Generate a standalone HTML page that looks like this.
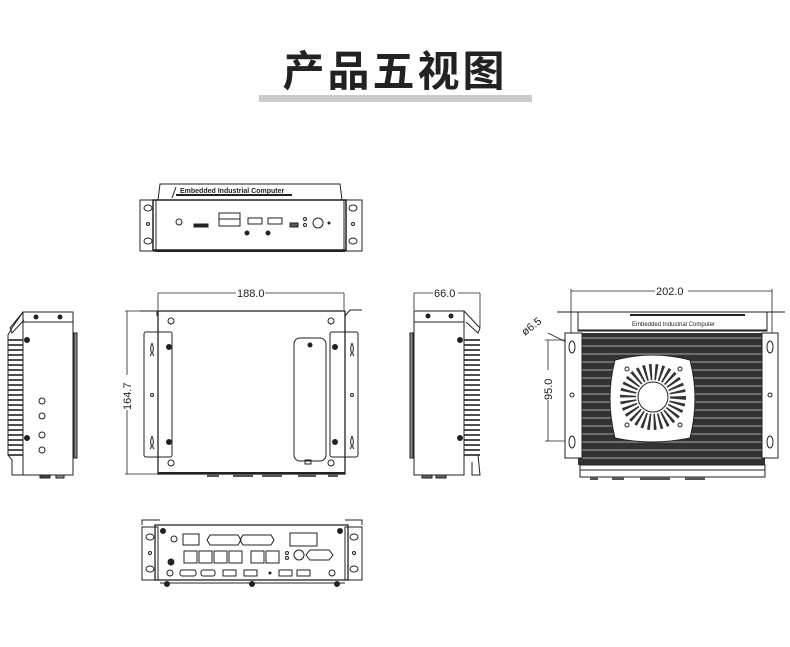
<!DOCTYPE html>
<html><head><meta charset="utf-8"><style>
html,body{margin:0;padding:0;background:#fff;width:790px;height:647px;overflow:hidden}
.t{position:absolute;left:0;top:38px;width:790px;text-align:center;font:bold 42px "Liberation Sans","Noto Sans CJK SC",sans-serif;color:#222;letter-spacing:3px}
.bar{position:absolute;left:259px;top:95px;width:273px;height:7px;background:#cbcbcb}
svg{position:absolute;left:0;top:0}
text{font-family:"Liberation Sans",sans-serif}
</style></head><body>
<div class="t">产品五视图</div>
<div class="bar"></div>
<svg width="790" height="647" viewBox="0 0 790 647" fill="none" stroke="#222" stroke-width="1">
<!-- FRONT VIEW -->
<path d="M158 200 L160 184 L340 184 L342 200" />
<line x1="176" y1="187" x2="172" y2="198"/>
<text x="180" y="193" font-size="7" fill="#222" stroke="none" font-weight="bold">Embedded Industrial Computer</text>
<line x1="176" y1="195" x2="292" y2="195" stroke-width="2"/>
<rect x="153" y="200" width="193" height="50" stroke-width="1.5"/>
<rect x="140" y="200" width="16" height="51"/><rect x="344" y="200" width="18" height="51"/>
<ellipse cx="148" cy="208" rx="4" ry="3"/><ellipse cx="148" cy="241" rx="4" ry="3"/><circle cx="148" cy="224" r="1.5"/>
<ellipse cx="353" cy="208" rx="4" ry="3"/><ellipse cx="353" cy="241" rx="4" ry="3"/><circle cx="353" cy="224" r="1.5"/>
<line x1="155" y1="251" x2="345" y2="251" stroke-width="2"/>
<circle cx="179" cy="222" r="3"/>
<rect x="194" y="224" width="14" height="3" fill="#222"/>
<rect x="219" y="213" width="21" height="13"/><line x1="219" y1="219" x2="240" y2="219"/>
<rect x="248" y="218" width="14" height="6"/><rect x="268" y="218" width="14" height="6"/>
<circle cx="247" cy="233" r="2" fill="#222"/><circle cx="268" cy="233" r="2" fill="#222"/>
<rect x="290" y="223" width="8" height="4" fill="#555"/>
<circle cx="305" cy="219" r="1.5"/><circle cx="305" cy="225" r="1.5"/>
<circle cx="318" cy="223" r="5"/><circle cx="329" cy="223" r="1" fill="#222"/>

<!-- LEFT SIDE VIEW -->
<path d="M23 312 L73 312 L73 475 L12 475 L12 460 L8 455 L8 335 L12 328 Z" fill="#fff"/>
<rect x="23" y="312" width="50" height="10"/>
<circle cx="36" cy="317" r="2" fill="#222"/><circle cx="60" cy="317" r="2" fill="#222"/>
<path d="M23 312 L10 328 L12 333 L24 320" />
<g stroke-width="1.6">
<line x1="8" y1="340" x2="23" y2="340"/><line x1="8" y1="345" x2="23" y2="345"/><line x1="8" y1="350" x2="23" y2="350"/><line x1="8" y1="355" x2="23" y2="355"/><line x1="8" y1="360" x2="23" y2="360"/><line x1="8" y1="365" x2="23" y2="365"/><line x1="8" y1="370" x2="23" y2="370"/><line x1="8" y1="375" x2="23" y2="375"/><line x1="8" y1="380" x2="23" y2="380"/><line x1="8" y1="385" x2="23" y2="385"/><line x1="8" y1="390" x2="23" y2="390"/><line x1="8" y1="395" x2="23" y2="395"/><line x1="8" y1="400" x2="23" y2="400"/><line x1="8" y1="405" x2="23" y2="405"/><line x1="8" y1="410" x2="23" y2="410"/><line x1="8" y1="415" x2="23" y2="415"/><line x1="8" y1="420" x2="23" y2="420"/><line x1="8" y1="425" x2="23" y2="425"/><line x1="8" y1="430" x2="23" y2="430"/><line x1="8" y1="435" x2="23" y2="435"/><line x1="8" y1="440" x2="23" y2="440"/><line x1="8" y1="445" x2="23" y2="445"/><line x1="8" y1="450" x2="23" y2="450"/><line x1="8" y1="455" x2="23" y2="455"/>
</g>
<line x1="23" y1="320" x2="23" y2="475"/>
<circle cx="27" cy="340" r="2.5" fill="#222"/><circle cx="27" cy="438" r="2.5" fill="#222"/>
<rect x="74" y="333" width="3" height="125" fill="#888"/>
<circle cx="42" cy="401" r="3"/><circle cx="42" cy="416" r="3"/><circle cx="42" cy="435" r="3"/><circle cx="42" cy="450" r="3"/>
<rect x="40" y="475" width="10" height="3" fill="#444"/><rect x="56" y="475" width="8" height="3" fill="#888"/>

<!-- TOP VIEW -->
<g stroke-width="0.8">
<line x1="158" y1="310" x2="158" y2="293"/><line x1="344" y1="310" x2="344" y2="293"/>
<line x1="158" y1="293" x2="236" y2="293"/><line x1="265" y1="293" x2="344" y2="293"/>
<line x1="125" y1="311" x2="158" y2="311"/><line x1="125" y1="474" x2="158" y2="474"/>
<line x1="127" y1="311" x2="127" y2="375"/><line x1="127" y1="410" x2="127" y2="474"/>
</g>
<text x="237" y="297" font-size="11" fill="#222" stroke="none">188.0</text>
<text x="131" y="410" font-size="11" fill="#222" stroke="none" transform="rotate(-90 131 410)">164.7</text>
<path d="M140 311 L157 311 L157 316" /><path d="M345 316 L350 310 L362 310"/>
<rect x="158" y="311" width="187" height="163" stroke-width="1.3"/>
<line x1="158" y1="473" x2="345" y2="473" stroke-width="2"/>
<rect x="144" y="332" width="28" height="125" rx="2"/><rect x="330" y="332" width="28" height="125" rx="2"/>
<path d="M152 343 q-2 5 -1 8 q1 3 -1 5 M152 343 q2 5 1 8 q-1 3 1 5"/>
<path d="M152 436 q-2 5 -1 8 q1 3 -1 5 M152 436 q2 5 1 8 q-1 3 1 5"/>
<path d="M352 343 q-2 5 -1 8 q1 3 -1 5 M352 343 q2 5 1 8 q-1 3 1 5"/>
<path d="M352 436 q-2 5 -1 8 q1 3 -1 5 M352 436 q2 5 1 8 q-1 3 1 5"/>
<circle cx="152" cy="395" r="1.5"/><circle cx="352" cy="395" r="1.5"/>
<circle cx="171" cy="321" r="3"/><circle cx="331" cy="321" r="3"/><circle cx="171" cy="463" r="3"/><circle cx="331" cy="463" r="3"/>
<circle cx="169" cy="347" r="2.5" fill="#222"/><circle cx="169" cy="442" r="2.5" fill="#222"/>
<circle cx="335" cy="347" r="2.5" fill="#222"/><circle cx="335" cy="442" r="2.5" fill="#222"/>
<rect x="294" y="338" width="32" height="123" rx="6"/><circle cx="310" cy="345" r="2" fill="#222"/>
<rect x="305" y="460" width="6" height="4"/>
<g fill="#555" stroke="none"><rect x="207" y="474" width="12" height="3"/><rect x="233" y="474" width="20" height="3"/><rect x="262" y="474" width="20" height="3"/><rect x="298" y="474" width="18" height="3"/><rect x="328" y="474" width="10" height="3"/></g>

<!-- RIGHT SIDE VIEW -->
<g stroke-width="0.8"><line x1="414" y1="293" x2="414" y2="310"/><line x1="480" y1="293" x2="480" y2="328"/>
<line x1="414" y1="293" x2="433" y2="293"/><line x1="458" y1="293" x2="480" y2="293"/></g>
<text x="434" y="297" font-size="11" fill="#222" stroke="none">66.0</text>
<rect x="414" y="311" width="50" height="164" fill="#fff"/>
<rect x="414" y="311" width="50" height="11"/>
<circle cx="428" cy="316" r="2" fill="#222"/><circle cx="451" cy="316" r="2" fill="#222"/>
<path d="M464 311 L480 328 L478 333 L466 322"/>
<g stroke-width="1.6">
<line x1="464" y1="340" x2="480" y2="340"/><line x1="464" y1="345" x2="480" y2="345"/><line x1="464" y1="350" x2="480" y2="350"/><line x1="464" y1="355" x2="480" y2="355"/><line x1="464" y1="360" x2="480" y2="360"/><line x1="464" y1="365" x2="480" y2="365"/><line x1="464" y1="370" x2="480" y2="370"/><line x1="464" y1="375" x2="480" y2="375"/><line x1="464" y1="380" x2="480" y2="380"/><line x1="464" y1="385" x2="480" y2="385"/><line x1="464" y1="390" x2="480" y2="390"/><line x1="464" y1="395" x2="480" y2="395"/><line x1="464" y1="400" x2="480" y2="400"/><line x1="464" y1="405" x2="480" y2="405"/><line x1="464" y1="410" x2="480" y2="410"/><line x1="464" y1="415" x2="480" y2="415"/><line x1="464" y1="420" x2="480" y2="420"/><line x1="464" y1="425" x2="480" y2="425"/><line x1="464" y1="430" x2="480" y2="430"/><line x1="464" y1="435" x2="480" y2="435"/><line x1="464" y1="440" x2="480" y2="440"/><line x1="464" y1="445" x2="480" y2="445"/><line x1="464" y1="450" x2="480" y2="450"/><line x1="464" y1="455" x2="480" y2="455"/>
</g>
<path d="M464 455 L478 455 L480 475 L472 475 L472 462"/>
<circle cx="460" cy="340" r="2.5" fill="#222"/><circle cx="460" cy="438" r="2.5" fill="#222"/>
<rect x="410" y="333" width="3" height="125" fill="#888"/>
<rect x="422" y="475" width="10" height="3" fill="#666"/><rect x="436" y="475" width="10" height="3" fill="#666"/>

<!-- BOTTOM VIEW -->
<g stroke-width="0.8">
<line x1="571" y1="289" x2="571" y2="345"/><line x1="772" y1="289" x2="772" y2="345"/>
<line x1="571" y1="291" x2="655" y2="291"/><line x1="688" y1="291" x2="772" y2="291"/>
<line x1="548" y1="340" x2="548" y2="370"/><line x1="548" y1="400" x2="548" y2="441"/>
<line x1="545" y1="340" x2="570" y2="340"/><line x1="545" y1="441" x2="570" y2="441"/>
<line x1="548" y1="333" x2="570" y2="344"/>
</g>
<text x="656" y="295" font-size="11" fill="#222" stroke="none">202.0</text>
<text x="525" y="336" font-size="11" fill="#222" stroke="none" transform="rotate(-38 525 336)">ø6.5</text>
<text x="552" y="400" font-size="11" fill="#222" stroke="none" transform="rotate(-90 552 400)">95.0</text>
<path d="M557 312 L578 312 L578 330 L767 330 L767 312 L785 312"/>
<rect x="578" y="312" width="189" height="19"/>
<line x1="630" y1="315" x2="745" y2="315" stroke-width="2"/>
<text x="632" y="326" font-size="6" fill="#222" stroke="none">Embedded Industrial Computer</text>
<rect x="578" y="333" width="187" height="132" fill="#333" stroke="none"/>
<g stroke="#aaa" stroke-width="1">
<line x1="578" y1="338" x2="765" y2="338"/><line x1="578" y1="346" x2="765" y2="346"/><line x1="578" y1="354" x2="765" y2="354"/><line x1="578" y1="362" x2="765" y2="362"/><line x1="578" y1="370" x2="765" y2="370"/><line x1="578" y1="378" x2="765" y2="378"/><line x1="578" y1="386" x2="765" y2="386"/><line x1="578" y1="394" x2="765" y2="394"/><line x1="578" y1="402" x2="765" y2="402"/><line x1="578" y1="410" x2="765" y2="410"/><line x1="578" y1="418" x2="765" y2="418"/><line x1="578" y1="426" x2="765" y2="426"/><line x1="578" y1="434" x2="765" y2="434"/><line x1="578" y1="442" x2="765" y2="442"/><line x1="578" y1="450" x2="765" y2="450"/><line x1="578" y1="458" x2="765" y2="458"/>
</g>
<rect x="565" y="333" width="17" height="125" fill="#fff"/><rect x="762" y="333" width="16" height="125" fill="#fff"/>
<ellipse cx="572" cy="347" rx="3" ry="6"/><ellipse cx="572" cy="442" rx="3" ry="6"/><circle cx="572" cy="395" r="2"/>
<ellipse cx="770" cy="347" rx="3" ry="6"/><ellipse cx="770" cy="442" rx="3" ry="6"/><circle cx="770" cy="395" r="2"/>
<path d="M615 360 Q652 350 690 360 Q700 398 690 438 Q652 446 615 438 Q605 398 615 360 Z" fill="#fff"/>
<circle cx="653" cy="397" r="25" stroke-width="16" stroke-dasharray="2.2 3" stroke="#333"/>
<circle cx="653" cy="397" r="15" fill="#fff"/>
<circle cx="627" cy="369" r="2"/><circle cx="680" cy="369" r="2"/><circle cx="627" cy="425" r="2"/><circle cx="680" cy="425" r="2"/>
<rect x="580" y="465" width="185" height="12" fill="#fff"/>
<line x1="580" y1="470" x2="765" y2="470"/>
<g fill="#555" stroke="none"><rect x="590" y="477" width="8" height="3"/><rect x="612" y="477" width="12" height="3"/><rect x="640" y="477" width="30" height="3"/><rect x="685" y="477" width="20" height="3"/></g>

<!-- REAR VIEW -->
<rect x="155" y="525" width="193" height="55" stroke-width="1.3"/>
<path d="M142 525 L142 520 L160 520 M362 525 L362 520 L345 520"/>
<rect x="142" y="527" width="16" height="53"/><rect x="345" y="527" width="17" height="53"/>
<ellipse cx="150" cy="537" rx="4" ry="3"/><ellipse cx="150" cy="569" rx="4" ry="3"/><circle cx="150" cy="553" r="1.5"/>
<ellipse cx="354" cy="537" rx="4" ry="3"/><ellipse cx="354" cy="569" rx="4" ry="3"/><circle cx="354" cy="553" r="1.5"/>
<line x1="160" y1="583" x2="345" y2="583"/>
<g fill="#222"><circle cx="163" cy="531" r="2.5"/><circle cx="340" cy="531" r="2.5"/><circle cx="167" cy="584" r="2.5"/><circle cx="337" cy="584" r="2.5"/><circle cx="252" cy="584" r="2.5"/><circle cx="171" cy="562" r="3"/></g>
<circle cx="174" cy="539" r="3"/><circle cx="170" cy="573" r="3"/><circle cx="332" cy="573" r="3"/>
<rect x="183" y="534" width="16" height="11"/>
<path d="M210 535 h28 l3 5 l-3 5 h-28 l-3 -5 z"/><path d="M243 535 h28 l3 5 l-3 5 h-28 l-3 -5 z"/>
<rect x="290" y="533" width="27" height="13"/>
<rect x="184" y="551" width="13" height="12"/><rect x="199" y="551" width="13" height="12"/><rect x="214" y="551" width="13" height="12"/><rect x="229" y="551" width="13" height="12"/>
<rect x="251" y="551" width="13" height="12"/><rect x="266" y="551" width="13" height="12"/>
<circle cx="287" cy="553" r="1.5"/><circle cx="287" cy="558" r="1.5"/><circle cx="299" cy="555" r="5"/>
<path d="M310 550 h19 l4 5 l-4 5 h-19 l-4 -5 z"/>
<rect x="180" y="570" width="16" height="6" rx="2"/><rect x="201" y="570" width="14" height="6" rx="2"/>
<rect x="223" y="570" width="13" height="6"/><rect x="244" y="570" width="13" height="6"/>
<circle cx="270" cy="573" r="1" fill="#222"/><rect x="279" y="570" width="13" height="6"/><rect x="297" y="570" width="13" height="6"/>
</svg>
</body></html>
